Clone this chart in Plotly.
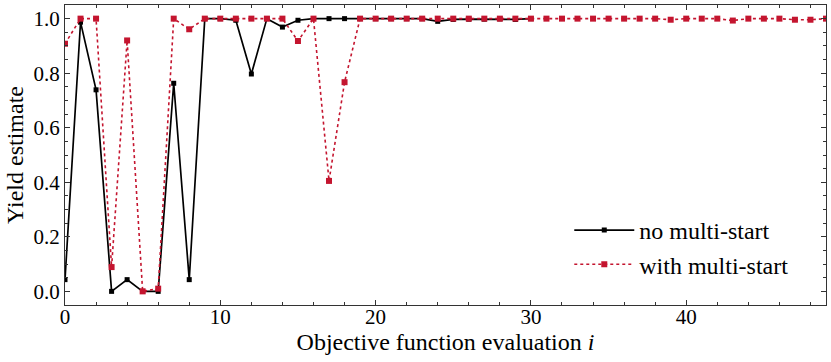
import plotly.graph_objects as go

# yield estimates per objective function evaluation
i_no = list(range(31))
y_no = [0.043, 0.987, 0.739, 0.0, 0.043, 0.0, 0.0, 0.763, 0.043, 1.0,
        1.0, 0.994, 0.797, 1.0, 0.969, 0.994, 1.0, 1.0, 1.0, 1.0,
        1.0, 1.0, 1.0, 1.0, 0.99, 0.997, 0.998, 0.998, 0.999, 0.997,
        1.0]

i_ms = list(range(50))
y_ms = [0.908, 1.0, 1.0, 0.089, 0.92, 0.0, 0.01, 1.0, 0.961, 1.0,
        1.0, 1.0, 1.0, 1.0, 1.0, 0.918, 1.0, 0.405, 0.767, 1.0,
        1.0, 1.0, 1.0, 1.0, 1.0, 1.0, 1.0, 1.0, 1.0, 1.0,
        1.0, 1.0, 1.0, 1.0, 1.0, 1.0, 1.0, 1.0, 1.0, 0.996,
        1.0, 1.0, 1.0, 0.993, 1.0, 1.0, 1.0, 0.996, 0.996, 1.0]

red = "#c4152f"
font = "Liberation Serif, DejaVu Serif, serif"

fig = go.Figure()
fig.add_trace(go.Scatter(x=i_no, y=y_no, mode="lines+markers", name="no multi-start",
                         legendgroup="a",
                         line=dict(color="black", width=1.7),
                         marker=dict(symbol="square", size=5, color="black")))
fig.add_trace(go.Scatter(x=i_ms, y=y_ms, mode="lines+markers", name="with multi-start",
                         legendgroup="b",
                         line=dict(color=red, width=1.6, dash="dot"),
                         marker=dict(symbol="square", size=6, color=red)))

axis = dict(showgrid=False, zeroline=False, showline=True, linecolor="#333",
            linewidth=1, mirror="allticks", ticks="inside", ticklen=5,
            tickcolor="#333", tickfont=dict(size=21), automargin=False)
fig.update_xaxes(axis, range=[0, 49], dtick=10, ticklabelstandoff=-7,
                 minor=dict(dtick=2, ticks="inside", ticklen=3, tickcolor="#333"),
                 title=dict(text="Objective function evaluation <i>i</i>",
                            font=dict(size=24), standoff=0))
fig.update_yaxes(axis, range=[-0.05, 1.05], dtick=0.2, tickformat=".1f",
                 minor=dict(dtick=0.05, ticks="inside", ticklen=3, tickcolor="#333"),
                 title=dict(text="Yield estimate", font=dict(size=24), standoff=3))

fig.update_layout(
    width=831, height=362,
    margin=dict(l=65, r=5, t=5, b=57),
    plot_bgcolor="white", paper_bgcolor="white",
    font=dict(family=font, color="black"),
    legend=dict(x=0.957, y=0.06, xanchor="right", yanchor="bottom",
                bgcolor="rgba(0,0,0,0)", font=dict(size=24), tracegroupgap=0,
                itemwidth=60),
    showlegend=True,
)

fig.write_html("out.html", config={"displayModeBar": False},
               post_script="document.body.style.margin='0';")
